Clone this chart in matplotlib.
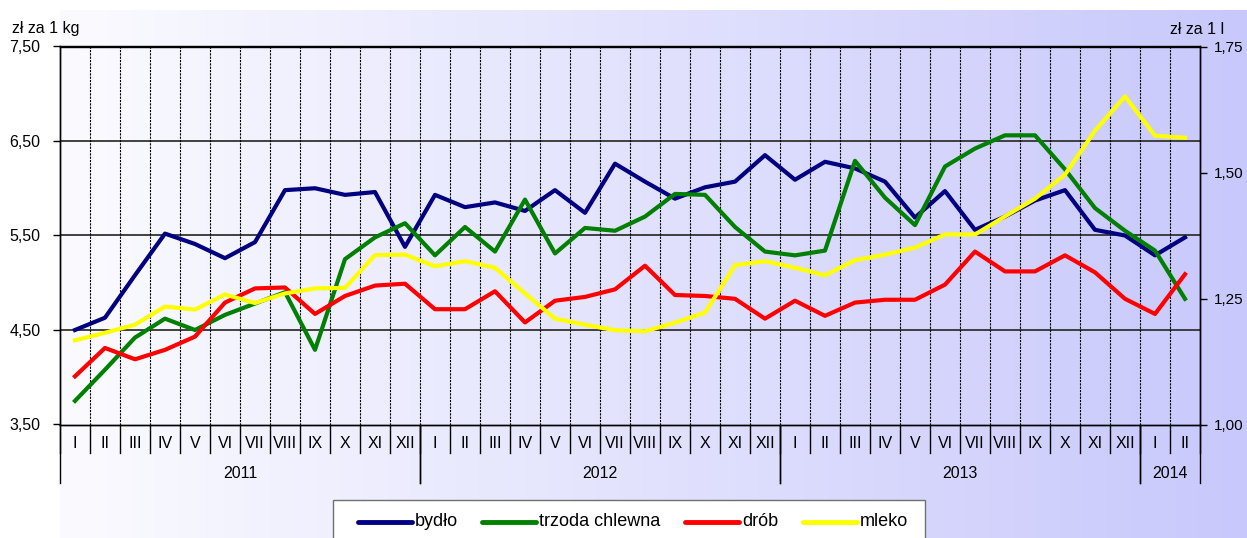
import numpy as np
import matplotlib
matplotlib.use('Agg')
import matplotlib.pyplot as plt
from matplotlib.transforms import blended_transform_factory
from matplotlib.lines import Line2D
from matplotlib.patches import Rectangle
from matplotlib.ticker import FuncFormatter

plt.rcParams['font.family'] = ['Liberation Sans', 'DejaVu Sans']

months = ['I', 'II', 'III', 'IV', 'V', 'VI', 'VII', 'VIII', 'IX', 'X', 'XI', 'XII'] * 3 + ['I', 'II']
years = ['2011', '2012', '2013', '2014']
year_spans = [(0, 12), (12, 24), (24, 36), (36, 38)]

bydlo = [4.50, 4.63, 5.08, 5.52, 5.41, 5.26, 5.43, 5.98, 6.00, 5.93, 5.96, 5.38,
         5.93, 5.80, 5.85, 5.76, 5.98, 5.74, 6.26, 6.07, 5.89, 6.01, 6.07, 6.35,
         6.09, 6.28, 6.21, 6.07, 5.69, 5.97, 5.56, 5.70, 5.87, 5.98, 5.56, 5.50,
         5.29, 5.48]
trzoda = [3.75, 4.08, 4.42, 4.62, 4.50, 4.66, 4.78, 4.90, 4.29, 5.25, 5.48, 5.63,
          5.29, 5.59, 5.33, 5.88, 5.31, 5.58, 5.55, 5.70, 5.94, 5.93, 5.59, 5.33,
          5.29, 5.34, 6.29, 5.90, 5.61, 6.23, 6.42, 6.56, 6.56, 6.20, 5.79, 5.55,
          5.34, 4.83]
drob = [4.01, 4.31, 4.19, 4.29, 4.43, 4.79, 4.94, 4.95, 4.67, 4.86, 4.97, 4.99,
        4.72, 4.72, 4.91, 4.58, 4.81, 4.85, 4.93, 5.18, 4.87, 4.86, 4.83, 4.62,
        4.81, 4.65, 4.79, 4.82, 4.82, 4.98, 5.33, 5.12, 5.12, 5.29, 5.11, 4.83,
        4.67, 5.09]
mleko = [1.167, 1.182, 1.198, 1.234, 1.228, 1.258, 1.241, 1.260, 1.270, 1.271, 1.336, 1.337,
         1.314, 1.324, 1.311, 1.260, 1.210, 1.198, 1.187, 1.185, 1.202, 1.222, 1.316, 1.324,
         1.311, 1.296, 1.326, 1.337, 1.351, 1.377, 1.377, 1.413, 1.448, 1.496, 1.583, 1.651,
         1.573, 1.569]

series_labels = ['bydło', 'trzoda chlewna', 'drób', 'mleko']
series_colors = ['#000080', '#008000', '#FF0000', '#FFFF00']

left_ticks = [3.5, 4.5, 5.5, 6.5, 7.5]
right_ticks = [1.00, 1.25, 1.50, 1.75]

FS = 11.5

W, H = 1247, 538
fig = plt.figure(figsize=(W / 100, H / 100), dpi=100)

def fx(px):
    return px / W

def fy(py):
    return 1 - py / H

# background gradient
bg = fig.add_axes([60 / W, 0, 1 - 60 / W, 528 / H])
bg.set_zorder(-5)
c0 = np.array([251, 251, 255]) / 255
c1 = np.array([200, 200, 252]) / 255
t = np.linspace(0, 1, 512)[None, :, None]
grad = c0 + (c1 - c0) * t
bg.imshow(grad, aspect='auto', extent=[0, 1, 0, 1])
bg.axis('off')

x0, x1 = 60, 1200
ytop, ybot = 46.5, 424.5
ax = fig.add_axes([x0 / W, (H - ybot) / H, (x1 - x0) / W, (ybot - ytop) / H])
ax.set_facecolor('none')
n = len(months)
x = np.arange(n) + 0.5
ax.set_xlim(0, n)
ax.set_ylim(3.5, 7.5)

# grid
for v in left_ticks[1:]:
    ax.axhline(v, color='#333333', lw=1.3, zorder=1)
for k in range(1, n):
    ax.axvline(k, color='black', lw=0.8, ls=(0, (2, 1)), zorder=1)

ax.plot(x, bydlo, color=series_colors[0], lw=3, zorder=3, solid_joinstyle='round')
ax.plot(x, trzoda, color=series_colors[1], lw=3, zorder=4, solid_joinstyle='round')
ax.plot(x, drob, color=series_colors[2], lw=3, zorder=5, solid_joinstyle='round')

ax2 = ax.twinx()
ax2.set_ylim(1.0, 1.75)
ax2.plot(x, mleko, color=series_colors[3], lw=3, zorder=6, solid_joinstyle='round')

fmt = FuncFormatter(lambda v, p: f'{v:.2f}'.replace('.', ','))
ax.set_yticks(left_ticks)
ax.yaxis.set_major_formatter(fmt)
ax2.set_yticks(right_ticks)
ax2.yaxis.set_major_formatter(fmt)
ax.tick_params(axis='y', direction='out', length=5, width=1, pad=9, labelsize=FS, colors='black')
ax2.tick_params(axis='y', direction='out', length=5, width=1, pad=5, labelsize=11, colors='black')
ax.set_xticks([])
for a in (ax, ax2):
    for s in a.spines.values():
        s.set_color('black')
        s.set_linewidth(1)

# category axis labels below
tr = blended_transform_factory(ax.transData, ax.transAxes)
ah = ybot - ytop
for i, m in enumerate(months):
    ax.text(i + 0.5, -18.5 / ah, m, transform=tr, ha='center', va='center', fontsize=FS)
for k in range(0, n + 1):
    ax.plot([k, k], [0, -28.5 / ah], transform=tr, color='black', lw=1, clip_on=False)
for (a, b), yl in zip(year_spans, years):
    ax.text((a + b) / 2, -48.5 / ah, yl, transform=tr, ha='center', va='center', fontsize=FS)
    for k in (a, b):
        ax.plot([k, k], [0, -58.5 / ah], transform=tr, color='black', lw=1, clip_on=False)

fig.text(fx(12), fy(29), 'zł za 1 kg', ha='left', va='center', fontsize=FS)
fig.text(fx(1170), fy(29), 'zł za 1 l', ha='left', va='center', fontsize=FS)

# legend box (drawn in figure pixel positions)
lx0, lx1, ly0 = 333.5, 925, 500
fig.patches.append(Rectangle((fx(lx0), fy(560)), fx(lx1) - fx(lx0), fy(ly0) - fy(560),
                             transform=fig.transFigure, facecolor='white',
                             edgecolor='#707070', lw=1, zorder=10))
ly = 521.7
line_starts = [358, 482, 685, 803]
for xs, lab, col in zip(line_starts, series_labels, series_colors):
    fig.lines.append(Line2D([fx(xs), fx(xs + 54)], [fy(ly), fy(ly)], transform=fig.transFigure,
                            color=col, lw=3.5, solid_capstyle='round', zorder=11))
    fig.text(fx(xs + 57), fy(ly), lab, ha='left', va='center', fontsize=13, zorder=11)

fig.savefig('out.png', dpi=100)
